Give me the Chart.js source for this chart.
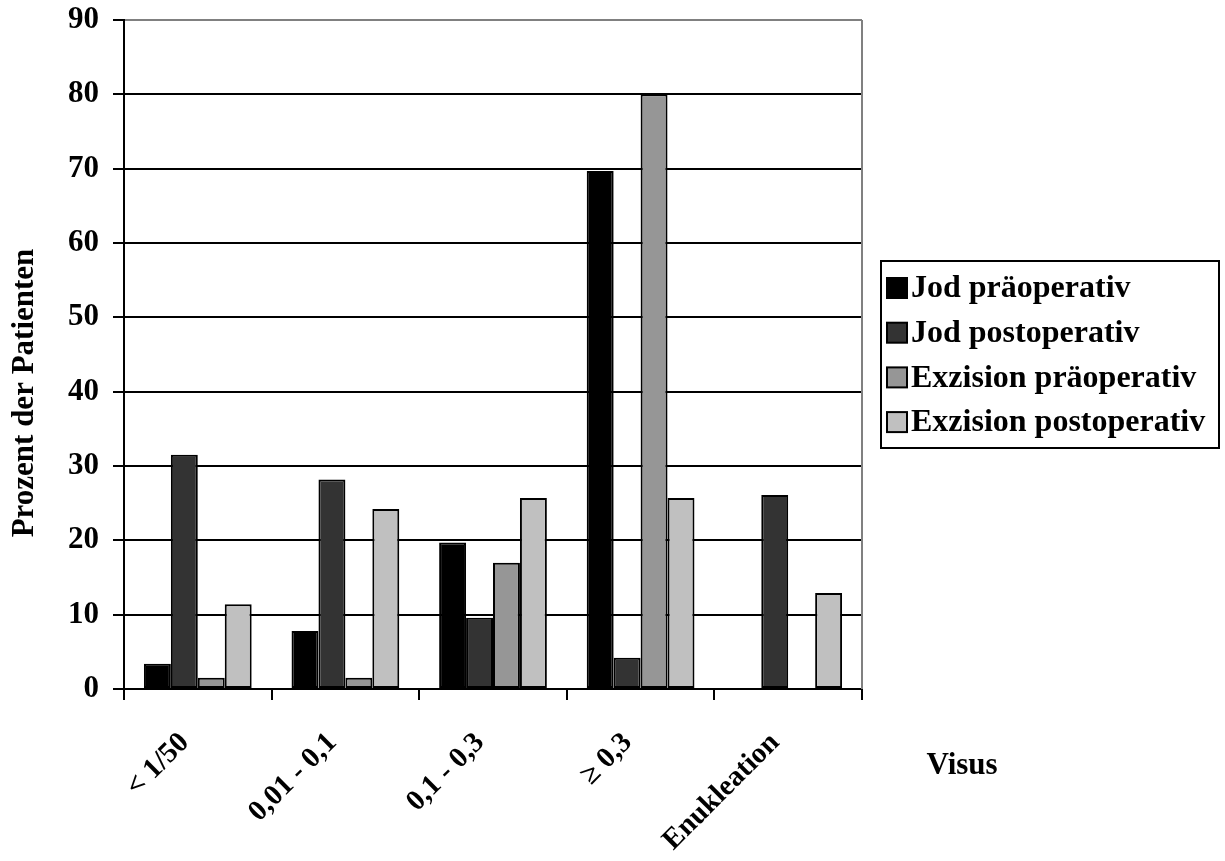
<!DOCTYPE html>
<html>
<head>
<meta charset="utf-8">
<script src="https://cdn.jsdelivr.net/npm/chart.js@4/dist/chart.umd.min.js"></script>
<style>
  html, body { margin: 0; padding: 0; background: #fff; }
  canvas { display: block; }
</style>
</head>
<body>
<canvas id="c" width="1225" height="861"></canvas>
<script>
// Visual acuity groups (x axis)
const categories = ['< 1/50', '0,01 - 0,1', '0,1 - 0,3', '\u2265 0,3', 'Enukleation'];

// Percent of patients per group
const jodPraeoperativ      = [3.4, 7.8, 19.7, 69.7, 0];
const jodPostoperativ      = [31.5, 28.2, 9.6, 4.2, 26.1];
const exzisionPraeoperativ = [1.5, 1.5, 17.0, 80.0, 0];
const exzisionPostoperativ = [11.4, 24.2, 25.7, 25.7, 12.9];

const seriesNames = ['Jod präoperativ', 'Jod postoperativ', 'Exzision präoperativ', 'Exzision postoperativ'];
const seriesColors = ['#000000', '#333333', '#969696', '#c0c0c0'];

const yTicks = { min: 0, max: 90, step: 10 };
const yTitle = 'Prozent der Patienten';
const xTitle = 'Visus';

const FONT = "'Liberation Serif', 'Times New Roman', serif";

// Axis titles, right frame of the plot and a framed legend
const decorations = {
  id: 'decorations',
  afterDraw(chart) {
    const ctx = chart.ctx;
    const a = chart.chartArea;
    ctx.save();

    ctx.strokeStyle = '#808080';
    ctx.lineWidth = 2;
    ctx.beginPath();
    ctx.moveTo(a.right, a.top);
    ctx.lineTo(a.right, a.bottom);
    ctx.stroke();

    ctx.fillStyle = '#000';
    ctx.font = 'bold 31px ' + FONT;
    ctx.textAlign = 'center';
    ctx.textBaseline = 'middle';
    ctx.save();
    ctx.translate(25, 393);
    ctx.rotate(-Math.PI / 2);
    ctx.fillText(yTitle, 0, 0);
    ctx.restore();

    ctx.fillText(xTitle, 962, 766);

    // legend
    const lx = 881, ly = 261, lw = 338, lh = 187;
    ctx.strokeStyle = '#000';
    ctx.lineWidth = 2;
    ctx.strokeRect(lx, ly, lw, lh);
    ctx.font = 'bold 32px ' + FONT;
    ctx.textAlign = 'left';
    chart.data.datasets.forEach((ds, i) => {
      const cy = 288 + i * 44.7;
      ctx.fillStyle = ds.backgroundColor;
      ctx.fillRect(887, cy - 10, 20, 20);
      ctx.strokeStyle = '#000';
      ctx.lineWidth = 2;
      ctx.strokeRect(887, cy - 10, 20, 20);
      ctx.fillStyle = '#000';
      ctx.fillText(ds.label, 911, cy + 1);
    });
    ctx.restore();
  }
};

new Chart(document.getElementById('c'), {
  type: 'bar',
  data: {
    labels: categories,
    datasets: [jodPraeoperativ, jodPostoperativ, exzisionPraeoperativ, exzisionPostoperativ].map((d, i) => ({
      label: seriesNames[i],
      data: d,
      backgroundColor: seriesColors[i],
      borderColor: '#000',
      borderWidth: 2,
      borderSkipped: false,
      categoryPercentage: 0.73,
      barPercentage: 1.0
    }))
  },
  options: {
    responsive: false,
    animation: false,
    devicePixelRatio: 1,
    layout: { padding: { left: 0, top: 20, right: 363, bottom: 0 } },
    plugins: {
      tooltip: { enabled: false },
      legend: { display: false }
    },
    scales: {
      x: {
        grid: {
          offset: true,
          drawOnChartArea: false,
          drawTicks: true,
          tickLength: 11,
          color: '#000',
          lineWidth: 2
        },
        border: { display: true, color: '#000', width: 2 },
        ticks: {
          color: '#000',
          font: { family: FONT, size: 29, weight: 'bold' },
          minRotation: 45,
          maxRotation: 45,
          padding: 26,
          labelOffset: -13
        },
        afterFit(scale) { scale.height = 172; }
      },
      y: {
        min: yTicks.min,
        max: yTicks.max,
        ticks: {
          stepSize: yTicks.step,
          color: '#000',
          font: { family: FONT, size: 31, weight: 'bold' },
          padding: 14
        },
        grid: {
          color: c => (c.tick && c.tick.value === yTicks.max) ? '#808080' : '#000',
          lineWidth: 2,
          tickLength: 11,
          tickColor: '#000'
        },
        border: { display: true, color: '#000', width: 2 },
        afterFit(scale) {
          scale.width = 124;
          scale.paddingTop = 0;
          scale.paddingBottom = 0;
        }
      }
    }
  },
  plugins: [decorations]
});
</script>
</body>
</html>
